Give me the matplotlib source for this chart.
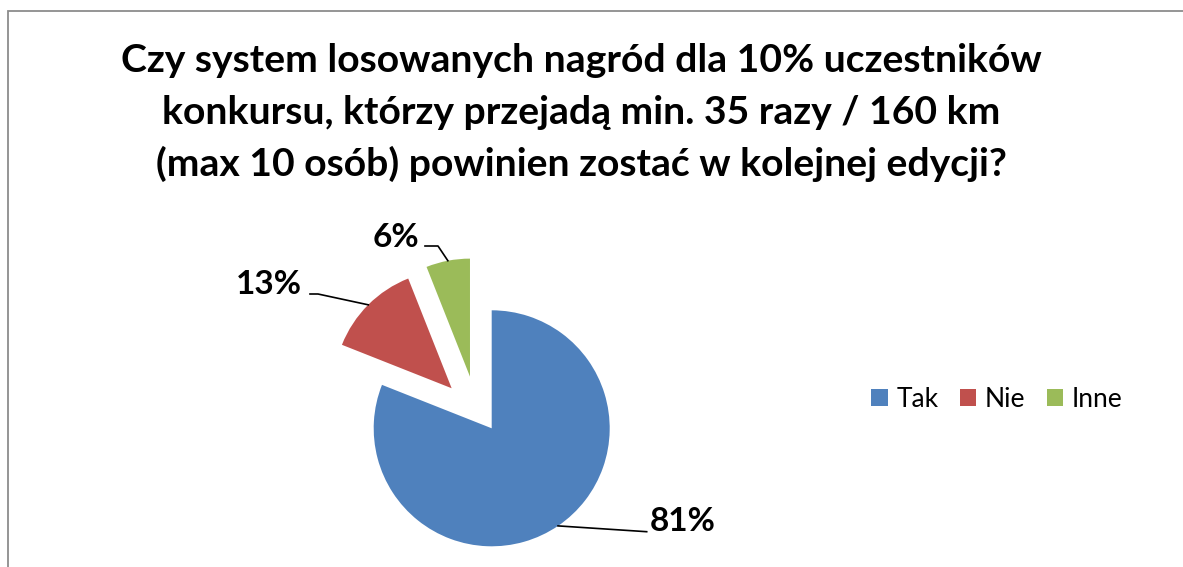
import numpy as np
import matplotlib
matplotlib.use("Agg")
import matplotlib.pyplot as plt
from matplotlib.patches import Rectangle

# dane z wykresu
categories = ["Tak", "Nie", "Inne"]
values = [81, 13, 6]
pct_labels = ["81%", "13%", "6%"]
title_lines = [
    "Czy system losowanych nagród dla 10% uczestników",
    "konkursu, którzy przejadą min. 35 razy / 160 km",
    "(max 10 osób) powinien zostać w kolejnej edycji?",
]

colors = ["#4F81BD", "#C0504D", "#9BBB59"]
explode = [0, 0.48, 0.48]

W, H = 1183, 567
plt.rcParams["font.family"] = ["Lato", "DejaVu Sans"]

fig = plt.figure(figsize=(W / 100, H / 100), dpi=100)
fig.patch.set_facecolor("white")

# ramka wykresu (widoczna tylko z lewej i u gory)
fig.add_artist(Rectangle((8 / W, -0.5), 1.5, 1.5 - 11 / H, transform=fig.transFigure,
                         fill=False, edgecolor="#8c8c8c", linewidth=1.3))

# tytul
for i, line in enumerate(title_lines):
    fig.text(581 / W, 1 - (72 + 52 * i) / H, line, ha="center", va="baseline",
             fontsize=28.2, fontweight="bold", color="black")

# os w pikselach: srodek kola (491.7, 428.3), promien 118 px
cx, cy, R = 491.7, 428.3, 118.0
ax = fig.add_axes([0, 0, 1, 1])
wedges, _ = ax.pie(values, colors=colors, explode=explode, startangle=90,
                   counterclock=False, radius=1, wedgeprops=dict(linewidth=0))
# zielony wycinek jest w oryginale odsuniety bardziej w lewo
ang = np.deg2rad(112.8)
wedges[2].set_center((0.475 * np.cos(ang), 0.475 * np.sin(ang)))

ax.set_aspect("auto")
ax.set_xlim(-cx / R, (W - cx) / R)
ax.set_ylim((cy - H) / R, cy / R)
ax.axis("off")


def px(x, y):
    return (x - cx) / R, (cy - y) / R


# etykiety z liniami odniesienia
label_pos = [((650, 531), "left", [(646.7, 531.7)]),
             ((302, 294), "right", [(310, 294), (318, 294)]),
             ((419, 246.7), "right", [(425, 246), (438, 246)])]
for w, lab, (tp, ha, pts) in zip(wedges, pct_labels, label_pos):
    mid = np.deg2rad((w.theta1 + w.theta2) / 2)
    c = w.center
    edge = (c[0] + w.r * np.cos(mid), c[1] + w.r * np.sin(mid))
    line = [edge] + [px(*p) for p in reversed(pts)]
    ax.plot([p[0] for p in line], [p[1] for p in line], color="black", lw=1.2)
    tx, ty = px(*tp)
    ax.text(tx, ty, lab, ha=ha, va="baseline", fontsize=24, fontweight="bold")

leg = ax.legend(wedges, categories, loc="center left", frameon=False,
                bbox_to_anchor=(871 / W, 1 - 399.5 / H), bbox_transform=fig.transFigure,
                ncol=3, fontsize=19, handlelength=0.64, handleheight=0.64,
                handletextpad=0.32, columnspacing=0.8, borderpad=0, borderaxespad=0)

fig.savefig("out.png", dpi=100, facecolor="white")
